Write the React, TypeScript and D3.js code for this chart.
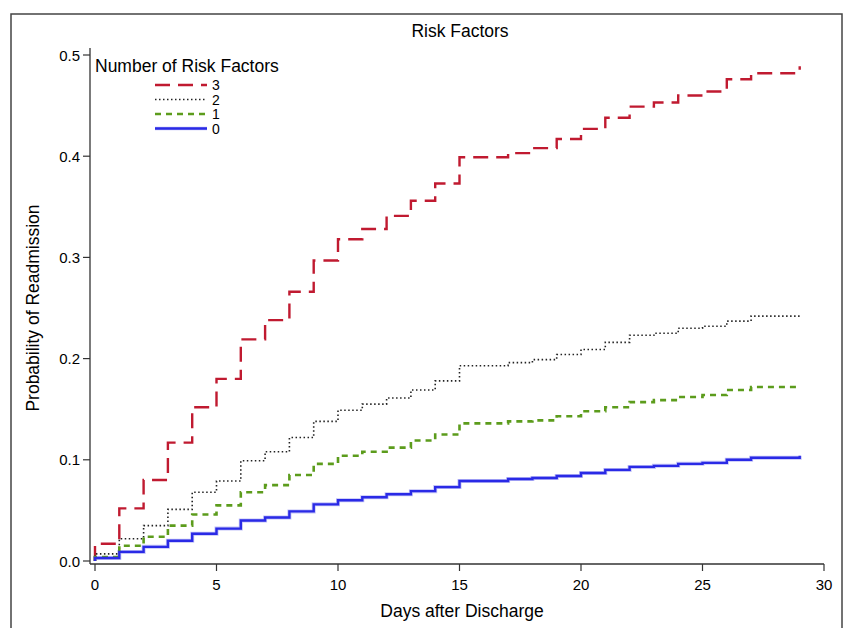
import React from 'react';
import * as d3 from 'd3';

// days after discharge (x categories)
const days = [0, 1, 2, 3, 4, 5, 6, 7, 8, 9, 10, 11, 12, 13, 14, 15, 16, 17, 18, 19, 20, 21, 22, 23, 24, 25, 26, 27, 28, 29];

// cumulative probability of readmission per risk-factor group
const risk3 = [0.017, 0.052, 0.080, 0.117, 0.152, 0.180, 0.219, 0.238, 0.266, 0.297, 0.318, 0.328, 0.341, 0.356, 0.373, 0.399, 0.399, 0.403, 0.408, 0.417, 0.427, 0.438, 0.449, 0.453, 0.460, 0.464, 0.476, 0.482, 0.482, 0.489];
const risk2 = [0.007, 0.022, 0.035, 0.051, 0.068, 0.079, 0.099, 0.108, 0.122, 0.138, 0.149, 0.155, 0.161, 0.169, 0.178, 0.193, 0.193, 0.196, 0.199, 0.204, 0.209, 0.216, 0.223, 0.225, 0.230, 0.232, 0.237, 0.242, 0.242, 0.244];
const risk1 = [0.004, 0.015, 0.024, 0.035, 0.046, 0.055, 0.068, 0.075, 0.085, 0.096, 0.104, 0.108, 0.112, 0.119, 0.125, 0.136, 0.136, 0.138, 0.139, 0.143, 0.148, 0.152, 0.157, 0.159, 0.162, 0.164, 0.169, 0.172, 0.172, 0.172];
const risk0 = [0.003, 0.009, 0.014, 0.020, 0.027, 0.032, 0.040, 0.043, 0.049, 0.056, 0.060, 0.063, 0.066, 0.069, 0.073, 0.079, 0.079, 0.081, 0.082, 0.084, 0.087, 0.090, 0.093, 0.094, 0.096, 0.097, 0.100, 0.102, 0.102, 0.104];

const groupLabels = ['3', '2', '1', '0'];
const xTicks = [0, 5, 10, 15, 20, 25, 30];
const yTicks = [0, 0.1, 0.2, 0.3, 0.4, 0.5];

const FONT = '"Liberation Sans", Arial, sans-serif';

const styles = [
  { color: '#c01a30', width: 2.4, dash: '15,8' },
  { color: '#222222', width: 1.6, dash: '1.5,2.5' },
  { color: '#5c9c1c', width: 2.6, dash: '6,5' },
  { color: '#2a2ae6', width: 2.4, dash: '' },
];

export default function App() {
  const W = 843, H = 628;
  const x = d3.scaleLinear().domain([0, 30]).range([95, 824]);
  const y = d3.scaleLinear().domain([0, 0.5]).range([561, 55]);
  const axisX = 90, axisY = 564;

  const series = [risk3, risk2, risk1, risk0];
  const line = d3.line<[number, number]>()
    .x(d => x(d[0]))
    .y(d => y(d[1]))
    .curve(d3.curveStepAfter);

  const paths = series.map(vals => {
    const pts: [number, number][] = [[0, 0], ...days.map((d, i) => [d, vals[i]] as [number, number])];
    return line(pts) || '';
  });

  return (
    <svg width={W} height={H} style={{ position: 'absolute', left: 0, top: 0, background: '#fff' }}>
      <rect x={11} y={14} width={831} height={640} fill="#fff" stroke="#444" strokeWidth={1.5} />

      <text x={460} y={37} textAnchor="middle" fontFamily={FONT} fontSize={17.5}>Risk Factors</text>

      {/* y axis */}
      <line x1={axisX} x2={axisX} y1={48} y2={axisY} stroke="#333" strokeWidth={1.3} />
      {yTicks.map(t => (
        <g key={t}>
          <line x1={83} x2={axisX} y1={y(t)} y2={y(t)} stroke="#333" strokeWidth={1.2} />
          <text x={80} y={y(t) + 5.5} textAnchor="end" fontFamily={FONT} fontSize={15}>{t.toFixed(1)}</text>
        </g>
      ))}
      <text transform={`translate(39,${y(0.25)}) rotate(-90)`} textAnchor="middle" fontFamily={FONT} fontSize={17.5}>Probability of Readmission</text>

      {/* x axis */}
      <line x1={axisX} x2={x(30)} y1={axisY} y2={axisY} stroke="#333" strokeWidth={1.3} />
      {xTicks.map(t => (
        <g key={t}>
          <line x1={x(t)} x2={x(t)} y1={axisY} y2={571} stroke="#333" strokeWidth={1.2} />
          <text x={x(t)} y={590} textAnchor="middle" fontFamily={FONT} fontSize={15}>{t}</text>
        </g>
      ))}
      <text x={462} y={617} textAnchor="middle" fontFamily={FONT} fontSize={17.5}>Days after Discharge</text>

      {/* curves */}
      <path d={paths[3]} fill="none" stroke="#9a9af2" strokeWidth={4} opacity={0.6} />
      {paths.map((p, i) => (
        <path key={i} d={p} fill="none" stroke={styles[i].color} strokeWidth={styles[i].width}
          strokeDasharray={styles[i].dash || undefined} />
      ))}

      {/* legend */}
      <text x={95} y={72} fontFamily={FONT} fontSize={17.5}>Number of Risk Factors</text>
      {groupLabels.map((g, i) => {
        const ly = 85 + i * 14.5;
        return (
          <g key={g}>
            {i === 3 && <line x1={155} x2={207} y1={ly} y2={ly} stroke="#9a9af2" strokeWidth={3.5} opacity={0.6} />}
            <line x1={155} x2={207} y1={ly} y2={ly} stroke={styles[i].color} strokeWidth={styles[i].width}
              strokeDasharray={styles[i].dash || undefined} />
            <text x={212} y={ly + 5} fontFamily={FONT} fontSize={14}>{g}</text>
          </g>
        );
      })}
    </svg>
  );
}
